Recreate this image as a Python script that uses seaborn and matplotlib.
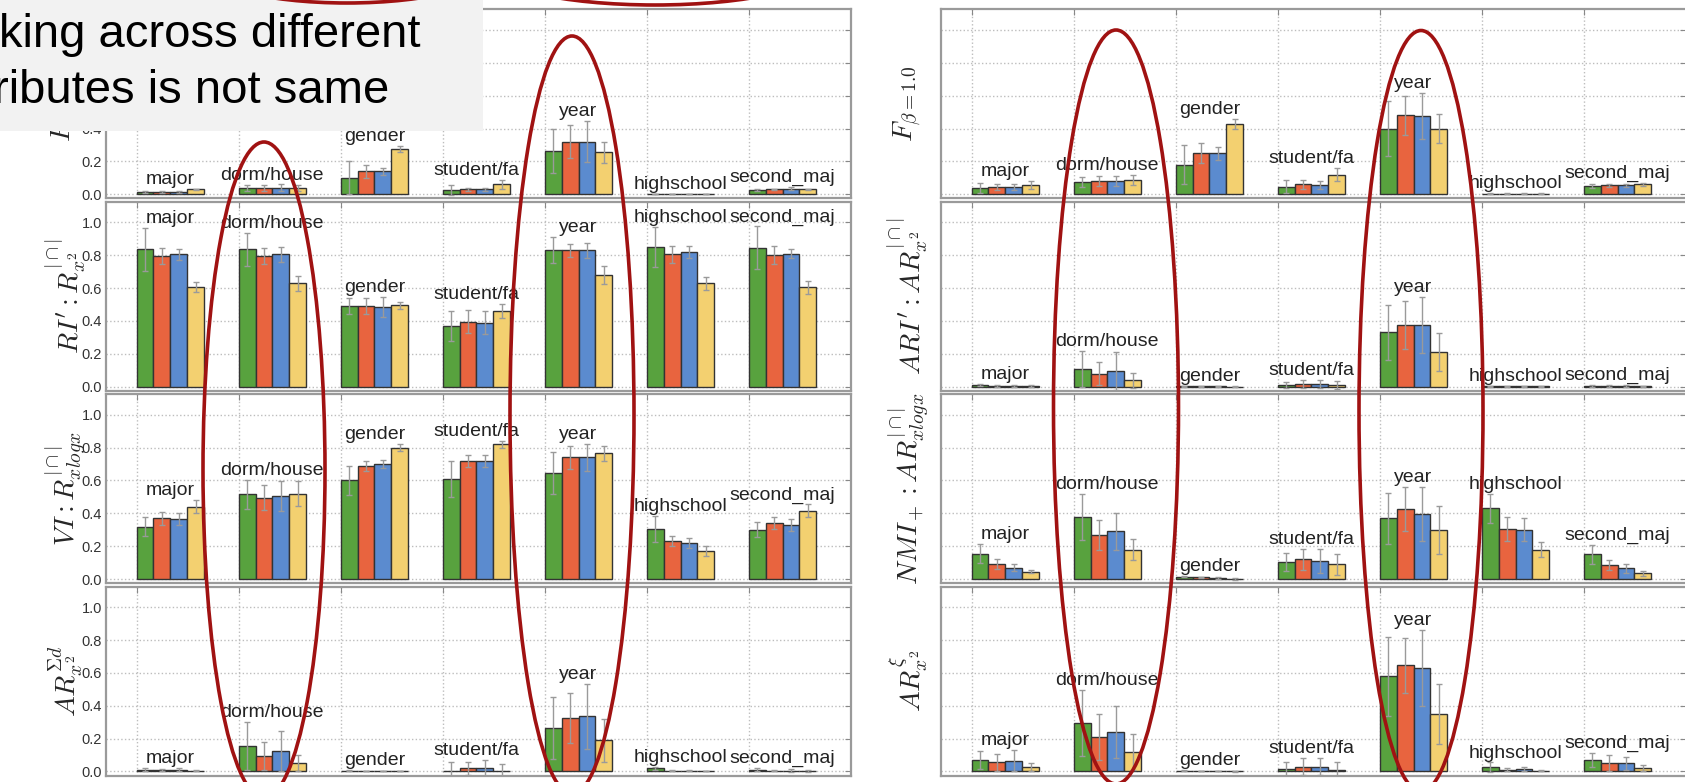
import numpy as np
import pandas as pd
import matplotlib
matplotlib.use("Agg")
import matplotlib.pyplot as plt
import seaborn as sns
from matplotlib.patches import Ellipse, Rectangle

# categories and methods
attributes = ["major", "dorm/house", "gender", "student/fa", "year", "highschool", "second_maj"]
methods = ["m1", "m2", "m3", "m4"]
bar_colors = ["#58a23e", "#e8643f", "#5b8bcf", "#f3d070"]

# ---- left column values (rows top -> bottom), one row of 4 per attribute
left1_vals = [[0.015, 0.015, 0.015, 0.03], [0.037, 0.037, 0.04, 0.037], [0.10, 0.14, 0.14, 0.275],
              [0.025, 0.03, 0.03, 0.06], [0.265, 0.32, 0.32, 0.255], [0.002, 0.002, 0.002, 0.002],
              [0.025, 0.03, 0.035, 0.03]]
left1_errs = [[0.005, 0.005, 0.005, 0.005], [0.02, 0.02, 0.02, 0.02], [0.10, 0.04, 0.02, 0.02],
              [0.03, 0.01, 0.01, 0.03], [0.135, 0.10, 0.125, 0.065], [0.002, 0.002, 0.002, 0.002],
              [0.005, 0.005, 0.01, 0.005]]

left2_vals = [[0.835, 0.795, 0.805, 0.605], [0.835, 0.795, 0.805, 0.63], [0.49, 0.49, 0.485, 0.495],
              [0.37, 0.395, 0.39, 0.46], [0.83, 0.83, 0.83, 0.68], [0.85, 0.805, 0.82, 0.63],
              [0.845, 0.80, 0.81, 0.605]]
left2_errs = [[0.13, 0.05, 0.035, 0.03], [0.10, 0.05, 0.045, 0.045], [0.05, 0.05, 0.06, 0.02],
              [0.09, 0.07, 0.07, 0.045], [0.08, 0.04, 0.045, 0.055], [0.12, 0.05, 0.035, 0.04],
              [0.13, 0.055, 0.03, 0.04]]

left3_vals = [[0.32, 0.37, 0.365, 0.44], [0.515, 0.495, 0.505, 0.52], [0.60, 0.69, 0.70, 0.80],
              [0.61, 0.72, 0.72, 0.82], [0.645, 0.74, 0.74, 0.765], [0.305, 0.23, 0.22, 0.17],
              [0.30, 0.34, 0.33, 0.415]]
left3_errs = [[0.055, 0.04, 0.035, 0.04], [0.09, 0.075, 0.09, 0.075], [0.09, 0.03, 0.025, 0.02],
              [0.11, 0.035, 0.035, 0.02], [0.13, 0.07, 0.08, 0.045], [0.08, 0.03, 0.03, 0.03],
              [0.045, 0.035, 0.035, 0.04]]

left4_vals = [[0.012, 0.008, 0.01, 0.005], [0.155, 0.095, 0.125, 0.05], [0.004, 0.002, 0.002, 0.001],
              [0.005, 0.02, 0.02, 0.002], [0.265, 0.325, 0.335, 0.19], [0.02, 0.006, 0.006, 0.003],
              [0.012, 0.006, 0.006, 0.003]]
left4_errs = [[0.01, 0.005, 0.01, 0.003], [0.145, 0.085, 0.12, 0.05], [0.004, 0.002, 0.002, 0.001],
              [0.05, 0.04, 0.05, 0.045], [0.19, 0.15, 0.20, 0.13], [0.01, 0.005, 0.005, 0.003],
              [0.01, 0.005, 0.01, 0.005]]

# ---- right column values
right1_vals = [[0.037, 0.045, 0.045, 0.057], [0.075, 0.08, 0.08, 0.085], [0.18, 0.25, 0.25, 0.43],
               [0.047, 0.06, 0.057, 0.12], [0.40, 0.48, 0.475, 0.40], [0.003, 0.003, 0.003, 0.003],
               [0.05, 0.055, 0.055, 0.06]]
right1_errs = [[0.03, 0.02, 0.02, 0.025], [0.03, 0.03, 0.03, 0.03], [0.12, 0.06, 0.04, 0.03],
               [0.04, 0.03, 0.025, 0.04], [0.17, 0.12, 0.14, 0.09], [0.003, 0.003, 0.003, 0.003],
               [0.01, 0.01, 0.01, 0.01]]

right2_vals = [[0.01, 0.006, 0.006, 0.003], [0.108, 0.078, 0.096, 0.04], [0.003, 0.002, 0.002, 0.001],
               [0.01, 0.015, 0.015, 0.01], [0.33, 0.375, 0.375, 0.21], [0.004, 0.003, 0.003, 0.002],
               [0.004, 0.003, 0.003, 0.002]]
right2_errs = [[0.005, 0.005, 0.005, 0.005], [0.11, 0.07, 0.116, 0.045], [0.002, 0.002, 0.002, 0.002],
               [0.02, 0.025, 0.025, 0.025], [0.17, 0.145, 0.17, 0.115], [0.003, 0.003, 0.003, 0.003],
               [0.005, 0.005, 0.005, 0.005]]

right3_vals = [[0.155, 0.09, 0.07, 0.045], [0.38, 0.27, 0.29, 0.18], [0.015, 0.01, 0.005, 0.002],
               [0.105, 0.12, 0.11, 0.09], [0.37, 0.425, 0.395, 0.30], [0.43, 0.305, 0.30, 0.18],
               [0.15, 0.085, 0.065, 0.035]]
right3_errs = [[0.06, 0.03, 0.02, 0.01], [0.14, 0.09, 0.11, 0.065], [0.005, 0.005, 0.005, 0.005],
               [0.055, 0.065, 0.075, 0.065], [0.155, 0.135, 0.165, 0.145], [0.09, 0.075, 0.07, 0.045],
               [0.06, 0.03, 0.025, 0.015]]

right4_vals = [[0.07, 0.055, 0.065, 0.025], [0.295, 0.21, 0.24, 0.12], [0.005, 0.003, 0.003, 0.002],
               [0.015, 0.03, 0.03, 0.01], [0.58, 0.645, 0.63, 0.35], [0.025, 0.01, 0.015, 0.005],
               [0.07, 0.05, 0.05, 0.02]]
right4_errs = [[0.055, 0.05, 0.065, 0.025], [0.2, 0.14, 0.16, 0.11], [0.003, 0.003, 0.003, 0.003],
               [0.045, 0.05, 0.05, 0.05], [0.24, 0.165, 0.23, 0.18], [0.03, 0.01, 0.01, 0.005],
               [0.045, 0.05, 0.04, 0.02]]

left_ylabels = [r"$F_{\beta=1.0}$", r"$RI':R_{x^2}^{|\cap|}$",
                r"$VI:R_{xlogx}^{|\cap|}$", r"$AR_{x^2}^{\Sigma d}$"]
right_ylabels = [r"$F_{\beta=1.0}$", r"$ARI':AR_{x^2}^{|\cap|}$",
                 r"$NMI_+:AR_{xlogx}^{|\cap|}$", r"$AR_{x^2}^{\xi}$"]

slide_lines = ["king across different", "ributes is not same"]

W, H = 1685, 782
GROUP_W = 0.66
RED = "#a01212"


def to_frame(vals, errs):
    rows = []
    for a, vrow, erow in zip(attributes, vals, errs):
        for m, v, e in zip(methods, vrow, erow):
            rows.append({"attr": a, "method": m, "value": v, "err": e})
    return pd.DataFrame(rows)


def draw_panel(ax, vals, errs, ylabel, show_ticklabels, label_x):
    df = to_frame(vals, errs)
    sns.barplot(data=df, x="attr", y="value", hue="method", order=attributes,
                hue_order=methods, palette=bar_colors, width=GROUP_W, saturation=1,
                errorbar=None, edgecolor="#333333", linewidth=1.0, legend=False,
                ax=ax, zorder=2)
    # error bars on top of each bar
    for j, cont in enumerate(list(ax.containers)):
        xs = [b.get_x() + b.get_width() / 2 for b in cont]
        ys = [b.get_height() for b in cont]
        es = [errs[i][j] for i in range(len(attributes))]
        ax.errorbar(xs, ys, yerr=es, fmt="none", ecolor="#9a9a9a",
                    elinewidth=1.0, capsize=2.2, capthick=1.0, zorder=3)
    # attribute names above each group
    for i, a in enumerate(attributes):
        top = max(v + e for v, e in zip(vals[i], errs[i]))
        ax.text(i, top + 0.03, a, ha="center", va="baseline", fontsize=14,
                color="#222222", zorder=4)
    ax.set_xlim(-GROUP_W / 2 - 0.3, len(attributes) - GROUP_W / 2)
    ax.set_ylim(-0.025, 1.125)
    ax.set_xticks(np.arange(len(attributes)) - GROUP_W / 2)
    ax.set_xticklabels([])
    ax.set_yticks(np.arange(0, 1.01, 0.2))
    ax.set_yticklabels([f"{t:.1f}" for t in np.arange(0, 1.01, 0.2)])
    ax.set_xlabel("")
    ax.set_ylabel(ylabel, fontsize=20, va="center")
    ax.yaxis.set_label_coords(label_x, 0.5)
    ax.grid(True, linestyle=":", color="#bdbdbd", linewidth=1.0)
    ax.set_axisbelow(True)
    ax.tick_params(direction="in", length=4, color="#888888", top=True, right=True,
                   labelsize=10.5, labelcolor="#333333", pad=3, labelleft=show_ticklabels)
    for sp in ax.spines.values():
        sp.set_color("#9a9a9a")
        sp.set_linewidth(1.6)


def main():
    sns.set_style("white")
    plt.rcParams["font.family"] = ["Liberation Sans", "DejaVu Sans"]
    plt.rcParams["mathtext.fontset"] = "cm"

    fig = plt.figure(figsize=(W / 100, H / 100), dpi=100)

    def rect(x0, top, w, h):
        return [x0 / W, 1 - (top + h) / H, w / W, h / H]

    left_sets = [(left1_vals, left1_errs), (left2_vals, left2_errs),
                 (left3_vals, left3_errs), (left4_vals, left4_errs)]
    right_sets = [(right1_vals, right1_errs), (right2_vals, right2_errs),
                  (right3_vals, right3_errs), (right4_vals, right4_errs)]

    for r in range(4):
        top = 9.4 + r * 192.4
        axl = fig.add_axes(rect(106, top, 745, 189))
        draw_panel(axl, *left_sets[r], left_ylabels[r], True, -0.054)
        axr = fig.add_axes(rect(941, top, 745, 189))
        draw_panel(axr, *right_sets[r], right_ylabels[r], False, -0.044)

    # slide overlay: text box and hand-drawn ellipses, in pixel coordinates
    ov = fig.add_axes([0, 0, 1, 1], zorder=10)
    ov.set_xlim(0, W)
    ov.set_ylim(H, 0)
    ov.axis("off")
    ov.patch.set_alpha(0)
    ov.add_patch(Rectangle((0, 0), 483, 131, facecolor="#f2f2f2", edgecolor="none"))
    ov.text(-1, 47, slide_lines[0], fontsize=34, va="baseline", ha="left", color="black")
    ov.text(-7, 103, slide_lines[1], fontsize=34, va="baseline", ha="left", color="black")
    for cx, cy, w, h in [(264, 470, 122, 656), (572, 415, 124, 758),
                         (1116, 407, 125, 754), (1421, 411, 124, 761),
                         (347, -37, 300, 80), (655, -35, 340, 80)]:
        ov.add_patch(Ellipse((cx, cy), w, h, fill=False, edgecolor=RED, linewidth=2.6))

    fig.savefig("out.png", dpi=100)


if __name__ == "__main__":
    main()
